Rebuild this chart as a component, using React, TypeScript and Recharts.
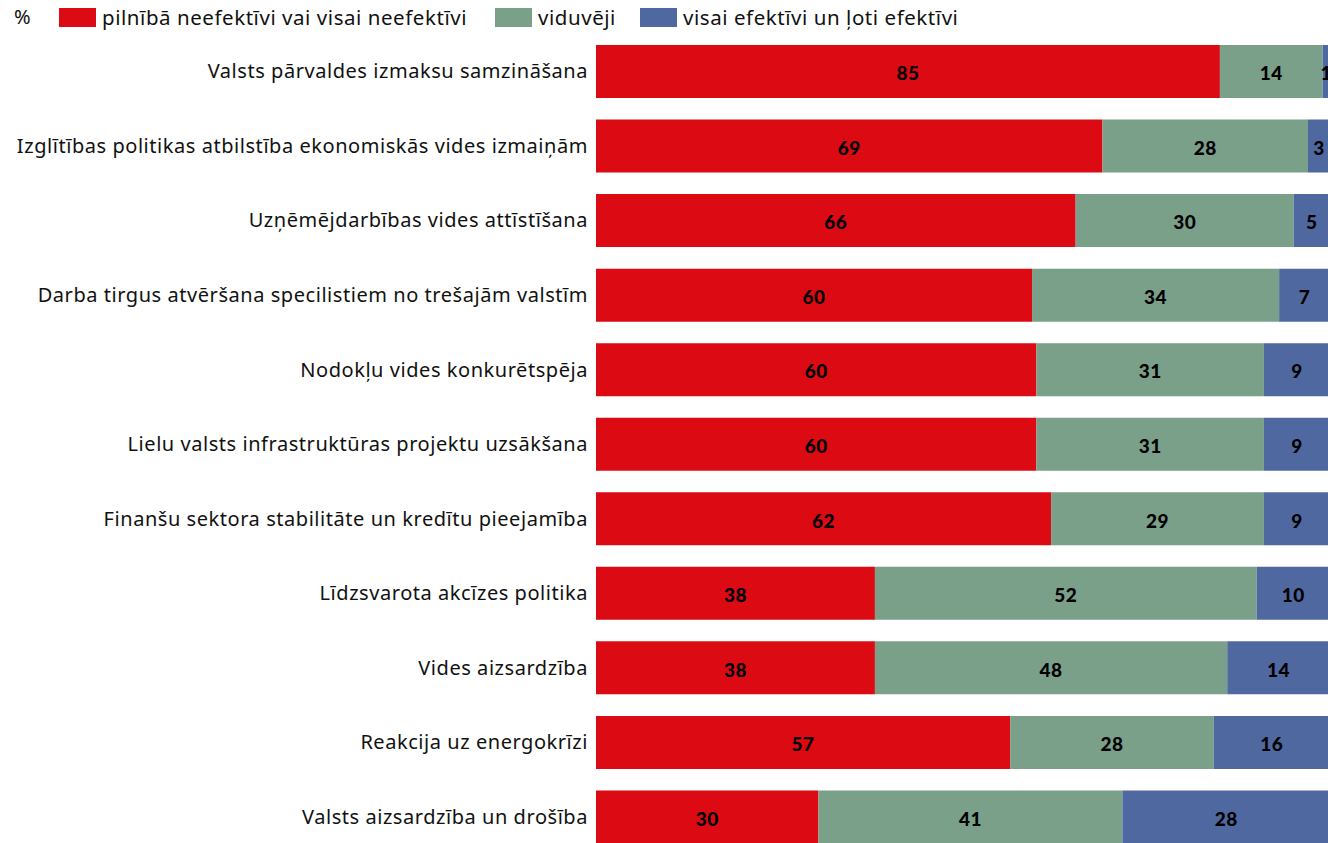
import { BarChart, Bar, XAxis, YAxis, LabelList } from 'recharts';

const categories = [
  'Valsts pārvaldes izmaksu samzināšana',
  'Izglītības politikas atbilstība ekonomiskās vides izmaiņām',
  'Uzņēmējdarbības vides attīstīšana',
  'Darba tirgus atvēršana specilistiem no trešajām valstīm',
  'Nodokļu vides konkurētspēja',
  'Lielu valsts infrastruktūras projektu uzsākšana',
  'Finanšu sektora stabilitāte un kredītu pieejamība',
  'Līdzsvarota akcīzes politika',
  'Vides aizsardzība',
  'Reakcija uz energokrīzi',
  'Valsts aizsardzība un drošība',
];

const ineffective = [85, 69, 66, 60, 60, 60, 62, 38, 38, 57, 30];
const medium = [14, 28, 30, 34, 31, 31, 29, 52, 48, 28, 41];
const effective = [1, 3, 5, 7, 9, 9, 9, 10, 14, 16, 28];

const seriesNames = [
  'pilnībā neefektīvi vai visai neefektīvi',
  'viduvēji',
  'visai efektīvi un ļoti efektīvi',
];

const RED = '#dc0a13';
const GREEN = '#7aa08a';
const BLUE = '#5068a0';
const COLORS = [RED, GREEN, BLUE];

const FONT = '"Noto Sans", sans-serif';

const data = categories.map((name, i) => ({
  name,
  a: ineffective[i],
  b: medium[i],
  c: effective[i],
}));

export default function App() {
  return (
    <div
      style={{
        position: 'absolute',
        left: 0,
        top: 0,
        width: 1328,
        height: 843,
        overflow: 'hidden',
        background: '#fff',
        fontFamily: FONT,
      }}
    >
      {/* Legend */}
      <div style={{ position: 'absolute', left: 14, top: 4, fontSize: 20, color: '#111', lineHeight: '26px' }}>%</div>
      {seriesNames.map((s, i) => {
        const left = [59, 495, 640][i];
        return (
          <div key={s} style={{ position: 'absolute', left, top: 4, display: 'flex', alignItems: 'center', height: 26 }}>
            <span style={{ width: 37, height: 19, background: COLORS[i], display: 'inline-block' }} />
            <span style={{ marginLeft: 6, fontSize: 20.5, letterSpacing: 0.55, color: '#111', whiteSpace: 'nowrap' }}>{s}</span>
          </div>
        );
      })}

      <div style={{ position: 'absolute', left: 0, top: 0 }}>
        <BarChart
          width={1330}
          height={870}
          data={data}
          layout="vertical"
          stackOffset="expand"
          margin={{ top: 34, right: 0, bottom: 16, left: 0 }}
        >
          <XAxis type="number" domain={[0, 1]} hide />
          <YAxis
            type="category"
            dataKey="name"
            width={596}
            axisLine={false}
            tickLine={false}
            tickMargin={2}
            tick={{ fill: '#111', fontSize: 20, fontFamily: FONT, letterSpacing: 0.55 }}
            interval={0}
          />
          {(['a', 'b', 'c'] as const).map((k, i) => (
            <Bar key={k} dataKey={k} stackId="s" fill={COLORS[i]} barSize={53} isAnimationActive={false}>
              <LabelList
                dataKey={k}
                position="center"
                fill="#000"
                dy={2}
                style={{ fontWeight: 900, fontSize: 19, fontFamily: '"Lato", sans-serif', letterSpacing: 0.5 }}
              />
            </Bar>
          ))}
        </BarChart>
      </div>
    </div>
  );
}
